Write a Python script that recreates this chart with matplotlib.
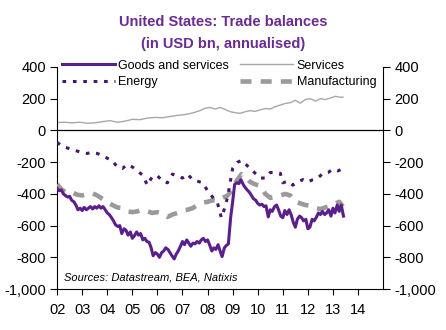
import matplotlib
matplotlib.use('Agg')
import matplotlib.pyplot as plt
from matplotlib.ticker import FuncFormatter

plt.rcParams['font.family'] = ['Liberation Sans', 'DejaVu Sans']

# Goods and services balance
goodsX = [2002.00, 2002.08, 2002.17, 2002.25, 2002.33, 2002.42, 2002.50, 2002.58, 2002.67, 2002.75, 2002.83, 2002.92,
          2003.00, 2003.08, 2003.17, 2003.25, 2003.33, 2003.42, 2003.50, 2003.58, 2003.67, 2003.75, 2003.83, 2003.92,
          2004.00, 2004.08, 2004.17, 2004.25, 2004.33, 2004.42, 2004.50, 2004.58, 2004.67, 2004.75, 2004.83, 2004.92,
          2005.00, 2005.08, 2005.17, 2005.25, 2005.33, 2005.42, 2005.50, 2005.58, 2005.67, 2005.75, 2005.83, 2005.92,
          2006.00, 2006.08, 2006.17, 2006.25, 2006.33, 2006.42, 2006.50, 2006.58, 2006.67, 2006.75, 2006.83, 2006.92,
          2007.00, 2007.08, 2007.17, 2007.25, 2007.33, 2007.42, 2007.50, 2007.58, 2007.67, 2007.75, 2007.83, 2007.92,
          2008.00, 2008.08, 2008.17, 2008.25, 2008.33, 2008.42, 2008.50, 2008.58, 2008.67, 2008.75, 2008.83, 2008.92,
          2009.00, 2009.08, 2009.17, 2009.25, 2009.33, 2009.42, 2009.50, 2009.58, 2009.67, 2009.75, 2009.83, 2009.92,
          2010.00, 2010.08, 2010.17, 2010.25, 2010.33, 2010.42, 2010.50, 2010.58, 2010.67, 2010.75, 2010.83, 2010.92,
          2011.00, 2011.08, 2011.17, 2011.25, 2011.33, 2011.42, 2011.50, 2011.58, 2011.67, 2011.75, 2011.83, 2011.92,
          2012.00, 2012.08, 2012.17, 2012.25, 2012.33, 2012.42, 2012.50, 2012.58, 2012.67, 2012.75, 2012.83, 2012.92,
          2013.00, 2013.08, 2013.17, 2013.25, 2013.33, 2013.42]
goodsY = [-365, -380, -375, -400, -410, -420, -415, -440, -450, -470, -500, -490,
          -505, -485, -500, -490, -480, -495, -480, -490, -475, -490, -480, -500,
          -520, -530, -550, -570, -595, -605, -600, -650, -620, -630, -660, -640,
          -680, -665, -640, -660, -650, -690, -680, -700, -705, -740, -790, -770,
          -780, -800, -770, -760, -740, -750, -770, -790, -810, -780, -760, -730,
          -700, -720, -690, -710, -730, -710, -715, -700, -710, -690, -680, -700,
          -690, -720, -760, -740, -750, -720, -760, -795, -740, -725, -715, -550,
          -450, -340, -330, -335, -310, -340, -360, -375, -390, -410, -430, -440,
          -460, -470, -465, -480, -475, -545, -500, -510, -480, -470, -500, -540,
          -550, -505, -530, -500, -530, -580, -610, -560, -540, -550, -570, -560,
          -620, -610, -560, -570, -550, -520, -530, -510, -530, -520, -500, -540,
          -490, -520, -470, -510, -470, -540]

# Services balance
servX = [2002.0, 2002.3, 2002.6, 2002.9, 2003.2, 2003.5, 2003.8, 2004.1, 2004.4, 2004.7,
         2005.0, 2005.3, 2005.6, 2005.9, 2006.2, 2006.5, 2006.8, 2007.1, 2007.4, 2007.7,
         2007.9, 2008.1, 2008.3, 2008.5, 2008.7, 2008.9, 2009.1, 2009.3, 2009.5, 2009.7,
         2009.9, 2010.1, 2010.3, 2010.5, 2010.7, 2010.9, 2011.1, 2011.3, 2011.5, 2011.7,
         2011.9, 2012.1, 2012.3, 2012.5, 2012.7, 2012.9, 2013.1, 2013.25, 2013.4]
servY = [50, 52, 48, 52, 45, 48, 55, 62, 52, 58,
         70, 68, 78, 82, 80, 88, 95, 100, 110, 125,
         140, 145, 135, 145, 132, 118, 112, 108, 118, 125,
         120, 130, 138, 135, 150, 160, 170, 175, 190, 172,
         195, 200, 185, 200, 195, 205, 215, 210, 210]

# Energy balance
enerX = [2002.0, 2002.2, 2002.4, 2002.6, 2002.8, 2003.0, 2003.2, 2003.4, 2003.6, 2003.8,
         2004.0, 2004.2, 2004.4, 2004.6, 2004.8, 2005.0, 2005.2, 2005.4, 2005.6, 2005.8,
         2006.0, 2006.2, 2006.4, 2006.6, 2006.8, 2007.0, 2007.2, 2007.4, 2007.6, 2007.8,
         2008.0, 2008.2, 2008.4, 2008.55, 2008.65, 2008.8, 2008.9, 2009.0, 2009.2, 2009.35,
         2009.5, 2009.7, 2009.9, 2010.1, 2010.3, 2010.5, 2010.7, 2010.9, 2011.0, 2011.2,
         2011.4, 2011.6, 2011.8, 2012.0, 2012.2, 2012.4, 2012.6, 2012.8, 2013.0, 2013.2, 2013.4]
enerY = [-75, -100, -110, -120, -130, -140, -145, -138, -145, -158,
         -175, -190, -230, -240, -215, -230, -255, -280, -345, -290,
         -285, -320, -330, -275, -290, -300, -275, -310, -320, -330,
         -380, -420, -460, -550, -505, -420, -330, -240, -200, -190,
         -210, -240, -270, -300, -300, -265, -265, -270, -330, -320,
         -345, -325, -310, -325, -310, -300, -270, -265, -245, -255, -240]

# Manufacturing balance
manuX = [2002.0, 2002.2, 2002.4, 2002.6, 2002.8, 2003.0, 2003.2, 2003.4, 2003.6, 2003.8,
         2004.0, 2004.2, 2004.4, 2004.6, 2004.8, 2005.0, 2005.2, 2005.4, 2005.6, 2005.8,
         2006.0, 2006.2, 2006.4, 2006.6, 2006.8, 2007.0, 2007.2, 2007.4, 2007.6, 2007.8,
         2008.0, 2008.2, 2008.4, 2008.6, 2008.8, 2009.0, 2009.15, 2009.35, 2009.5, 2009.7,
         2009.9, 2010.1, 2010.3, 2010.5, 2010.7, 2010.9, 2011.1, 2011.3, 2011.5, 2011.7,
         2011.9, 2012.1, 2012.3, 2012.5, 2012.7, 2012.9, 2013.1, 2013.25, 2013.4]
manuY = [-340, -375, -395, -390, -405, -410, -400, -395, -410, -430,
         -450, -470, -485, -490, -510, -515, -510, -500, -510, -520,
         -515, -525, -545, -530, -520, -505, -500, -490, -470, -455,
         -450, -440, -445, -425, -410, -370, -320, -275, -290, -325,
         -340, -350, -400, -425, -420, -410, -400, -410, -450, -460,
         -470, -475, -490, -495, -485, -475, -460, -450, -480]

yearTicks = list(range(2002, 2015))
yearLabels = ['%02d' % (y % 100) for y in yearTicks]

purple = '#5b1f8c'
darkPurple = '#46176e'
titleColor = '#6a2c91'

fig = plt.figure(figsize=(4.46, 3.30), dpi=100)
ax = fig.add_axes([0.128, 0.124, 0.731, 0.673])

ax.plot(servX, servY, color='#a8a8a8', lw=1.0, label='Services', zorder=2)
ax.plot(manuX, manuY, color='#9a9a9a', lw=3.3, linestyle=(0, (2.4, 2.0)), label='Manufacturing', zorder=3)
ax.plot(enerX, enerY, color=darkPurple, lw=2.2, linestyle=(0, (1.2, 2.2)), label='Energy', zorder=4)
ax.plot(goodsX, goodsY, color=purple, lw=2.2, label='Goods and services', zorder=5)
ax.axhline(0, color='black', lw=0.9, zorder=1)

ax.set_xlim(2002, 2015)
ax.set_ylim(-1000, 400)
ax.set_yticks(range(-1000, 401, 200))
ax.yaxis.set_major_formatter(FuncFormatter(lambda v, p: '{:,.0f}'.format(v)))
ax.set_xticks(yearTicks)
ax.set_xticklabels(yearLabels)
ax.tick_params(axis='y', labelsize=10.5, direction='out', length=5, width=0.8, pad=3,
               right=True, labelright=True)
ax.tick_params(axis='x', labelsize=10.5, direction='out', length=4, width=0.8, pad=6)
ax.spines['top'].set_visible(False)
for s in ['left', 'right', 'bottom']:
    ax.spines[s].set_linewidth(0.8)

h, l = ax.get_legend_handles_labels()
order = [3, 2, 0, 1]
ax.legend([h[i] for i in order], [l[i] for i in order], ncol=2, loc='upper left',
          bbox_to_anchor=(0.0, 1.055), frameon=False, fontsize=9, handlelength=4.2,
          handletextpad=0.3, columnspacing=0.9, labelspacing=0.35, borderaxespad=0.0)

ax.text(0.02, 0.052, 'Sources: Datastream, BEA, Natixis', transform=ax.transAxes,
        fontsize=8, style='italic', ha='left', va='center')

fig.text(0.5, 0.932, 'United States: Trade balances', ha='center', va='center',
         fontsize=10.5, fontweight='bold', color=titleColor)
fig.text(0.5, 0.868, '(in USD bn, annualised)', ha='center', va='center',
         fontsize=10.5, fontweight='bold', color=titleColor)

fig.savefig('out.png', dpi=100)
